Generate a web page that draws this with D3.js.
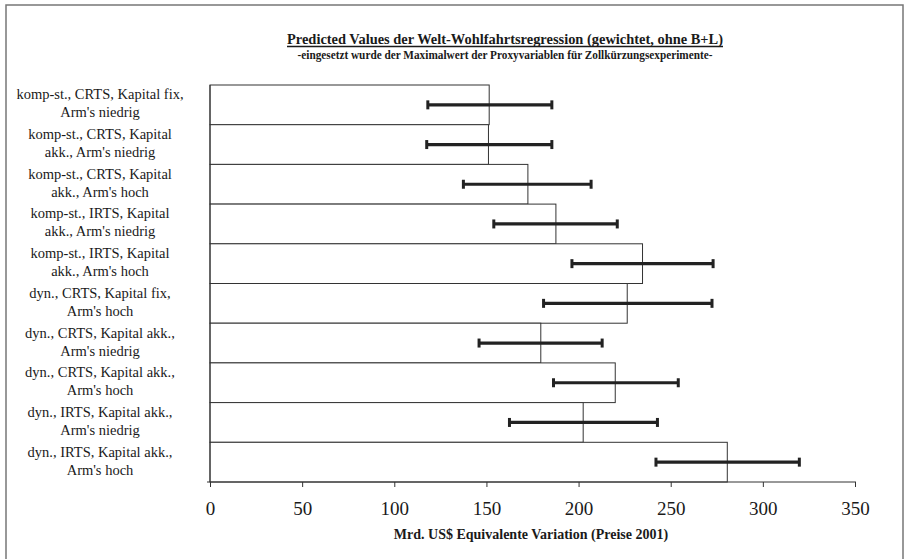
<!DOCTYPE html>
<html><head><meta charset="utf-8">
<script src="https://cdn.jsdelivr.net/npm/d3@7"></script>
<style>body{margin:0;background:#fff}svg{display:block}</style>
</head><body>
<script>
const categories = [
  ["komp-st., CRTS, Kapital fix,", "Arm's niedrig"],
  ["komp-st., CRTS, Kapital", "akk., Arm's niedrig"],
  ["komp-st., CRTS, Kapital", "akk., Arm's hoch"],
  ["komp-st., IRTS, Kapital", "akk., Arm's niedrig"],
  ["komp-st., IRTS, Kapital", "akk., Arm's hoch"],
  ["dyn., CRTS, Kapital fix,", "Arm's hoch"],
  ["dyn., CRTS, Kapital akk.,", "Arm's niedrig"],
  ["dyn., CRTS, Kapital akk.,", "Arm's hoch"],
  ["dyn., IRTS, Kapital akk.,", "Arm's niedrig"],
  ["dyn., IRTS, Kapital akk.,", "Arm's hoch"]
];
const values = [151.5, 151.1, 172.5, 187.7, 234.7, 226.4, 179.5, 219.9, 202.5, 280.7];
const lower  = [118.2, 117.6, 137.5, 154.0, 196.4, 181.0, 146.0, 186.4, 162.5, 242.0];
const upper  = [185.5, 185.5, 206.8, 221.0, 273.0, 272.4, 212.8, 254.1, 242.8, 319.8];
const xTicks = [0, 50, 100, 150, 200, 250, 300, 350];
const title = "Predicted Values der Welt-Wohlfahrtsregression (gewichtet, ohne B+L)";
const subtitle = "-eingesetzt wurde der Maximalwert der Proxyvariablen für Zollkürzungsexperimente-";
const xTitle = "Mrd. US$ Equivalente Variation (Preise 2001)";

(function(){
const W = 906, H = 559;
const svg = d3.select("body").append("svg").attr("width", W).attr("height", H)
  .style("font-family", "'Liberation Serif', 'DejaVu Serif', serif");

// outer frame
svg.append("path").attr("d", `M6,${H+2} L6,5 L903,5 L903,${H+2}`)
  .attr("fill", "none").attr("stroke", "#777").attr("stroke-width", 1.5);

const pL = 210, pR = 855, pT = 85, pB = 482;
const x = d3.scaleLinear().domain([0, 350]).range([pL, pR]);
const y = d3.scaleBand().domain(d3.range(categories.length)).range([pT, pB]).padding(0);

function fit(sel, w) {
  sel.each(function(){ const l = this.getComputedTextLength(); if (Math.abs(l - w) > 1) d3.select(this).attr("textLength", w).attr("lengthAdjust", "spacingAndGlyphs"); });
}

// title
const t1 = svg.append("text").attr("x", 505).attr("y", 44).attr("text-anchor", "middle")
  .attr("font-weight", "bold").attr("font-size", 15.5).attr("fill", "#1a1a1a").text(title);
fit(t1, 436);
svg.append("line").attr("x1", 287).attr("x2", 723).attr("y1", 46.5).attr("y2", 46.5)
  .attr("stroke", "#1a1a1a").attr("stroke-width", 1.3);
const t2 = svg.append("text").attr("x", 505).attr("y", 58.5).attr("text-anchor", "middle")
  .attr("font-weight", "bold").attr("font-size", 12).attr("fill", "#1a1a1a").text(subtitle);
fit(t2, 415);

// bars
svg.append("g").selectAll("rect").data(values).join("rect")
  .attr("x", x(0)).attr("y", (d, i) => y(i))
  .attr("width", d => x(d) - x(0)).attr("height", y.bandwidth())
  .attr("fill", "#fff").attr("stroke", "#333").attr("stroke-width", 1);

// error bars
const eb = svg.append("g").attr("stroke", "#222");
values.forEach((v, i) => {
  const cy = y(i) + y.bandwidth() / 2;
  eb.append("line").attr("x1", x(lower[i])).attr("x2", x(upper[i])).attr("y1", cy).attr("y2", cy).attr("stroke-width", 3.2);
  [lower[i], upper[i]].forEach(e => eb.append("line").attr("x1", x(e)).attr("x2", x(e))
    .attr("y1", cy - 4.5).attr("y2", cy + 4.5).attr("stroke-width", 3));
});

// x axis
const ax = svg.append("g").attr("transform", `translate(0,${pB})`)
  .call(d3.axisBottom(x).tickValues(xTicks).tickSize(5).tickPadding(15).tickFormat(d3.format("d")));
ax.select(".domain").attr("stroke", "#333").attr("d", `M${pL-3},0H${pR+1}`);
ax.selectAll(".tick line").attr("stroke", "#333");
ax.selectAll("text").attr("font-size", 19).attr("font-family", "'Liberation Serif', serif").attr("fill", "#1a1a1a");

// y axis line
svg.append("line").attr("x1", pL).attr("x2", pL).attr("y1", pT).attr("y2", pB)
  .attr("stroke", "#333");

// category labels
const lab = svg.append("g").attr("font-size", 14.5).attr("fill", "#1a1a1a").attr("text-anchor", "middle");
categories.forEach((c, i) => {
  const cy = y(i) + y.bandwidth() / 2;
  const t = lab.append("text").attr("x", 100).attr("y", cy - 5.5);
  t.append("tspan").attr("x", 100).text(c[0]);
  t.append("tspan").attr("x", 100).attr("dy", 18).text(c[1]);
});

// x title
svg.append("text").attr("x", 531).attr("y", 539).attr("text-anchor", "middle")
  .attr("font-weight", "bold").attr("font-size", 14).attr("fill", "#1a1a1a").text(xTitle);
})();
</script>
</body></html>
